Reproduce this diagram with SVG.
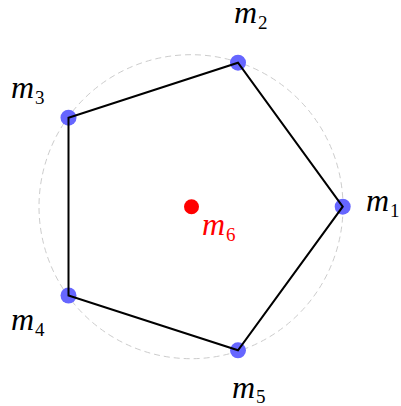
<svg xmlns="http://www.w3.org/2000/svg" width="401" height="406" viewBox="0 0 401 406">
<style>
.m{font-family:"Liberation Serif","DejaVu Serif",serif;font-style:italic;font-size:32px;fill:#000}
.s{font-family:"Liberation Serif","DejaVu Serif",serif;font-size:19px;fill:#000}
.v{fill:#6666ff}
.red .m,.red .s{fill:#ff0000}
</style>
<rect width="401" height="406" fill="#fff"/>
<circle cx="191" cy="206.7" r="152" fill="none" stroke="#cccccc" stroke-width="1" stroke-dasharray="6 4"/>
<g id="m1"><circle class="v" cx="342.7" cy="206.7" r="8"/><text x="366" y="211"><tspan class="m">m</tspan><tspan class="s" dx="1" dy="6">1</tspan></text></g>
<g id="m2"><circle class="v" cx="238" cy="62.7" r="8"/><text x="234" y="23"><tspan class="m">m</tspan><tspan class="s" dx="1" dy="6">2</tspan></text></g>
<g id="m3"><circle class="v" cx="68.5" cy="117.7" r="8"/><text x="11" y="98"><tspan class="m">m</tspan><tspan class="s" dx="1" dy="6">3</tspan></text></g>
<g id="m4"><circle class="v" cx="68.5" cy="295.5" r="8"/><text x="11" y="330"><tspan class="m">m</tspan><tspan class="s" dx="1" dy="6">4</tspan></text></g>
<g id="m5"><circle class="v" cx="238" cy="350.3" r="8"/><text x="232" y="398"><tspan class="m">m</tspan><tspan class="s" dx="1" dy="5">5</tspan></text></g>
<g id="m6" class="red"><circle cx="191.5" cy="206.7" r="7.5" fill="#ff0000"/><text x="202" y="235"><tspan class="m">m</tspan><tspan class="s" dx="1" dy="6">6</tspan></text></g>
<g id="connectors"><polygon points="342.7,206.7 238,62.7 68.5,117.7 68.5,295.5 238,350.3" fill="none" stroke="#000" stroke-width="2" stroke-linejoin="miter"/></g>
</svg>
